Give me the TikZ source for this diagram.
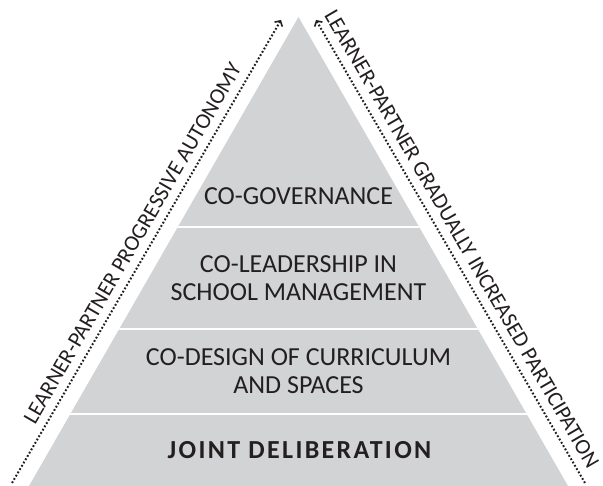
\documentclass[tikz,border=0pt]{standalone}
\usepackage{fontspec}
\setmainfont{Carlito}
\usepackage{tikz}
\usetikzlibrary{positioning,calc,arrows.meta}
\definecolor{pyrgray}{RGB}{209,211,212}
\definecolor{inkgray}{RGB}{35,31,32}
\tikzset{tier/.style={align=center, inner sep=0pt, text=inkgray, font=\fontsize{26}{28}\selectfont}}
\tikzset{tierb/.style={tier, font=\fontsize{26}{28}\selectfont\bfseries\addfontfeatures{LetterSpace=9}}}
\tikzset{sidelbl/.style={sloped, above, inner sep=8pt, text=inkgray, font=\fontsize{22}{24}\selectfont}}
\tikzset{dotarr/.style={draw=inkgray, line width=2pt, dash pattern=on 1.8pt off 2pt, -{Straight Barb[length=4pt,width=9pt,line width=1.6pt]}}}
\tikzset{sep/.style={draw=white, line width=2pt}}

\begin{document}
\begin{tikzpicture}[x=1pt, y=1pt]
	\useasboundingbox (0,0) rectangle (603,486);
	% pyramid
	\coordinate (top) at (298.5,469);
	\coordinate (bl) at (29,0);
	\coordinate (br) at (568,0);
	\fill[pyrgray] (bl) -- (top) -- (br) -- cycle;
	\begin{scope}
		\clip (bl) -- (top) -- (br) -- cycle;
		\foreach \y in {259,157,72}
			\draw[sep] (0,\y) -- (603,\y);
	\end{scope}
	% tiers
	\node[tier] (gov) at (298.5,289.5) {CO-GOVERNANCE};
	\node[tier] (lead) at (298.5,207.5) {CO-LEADERSHIP IN\\SCHOOL MANAGEMENT};
	\node[tier] (design) at (298.5,115) {CO-DESIGN OF CURRICULUM\\AND SPACES};
	\node[tierb] (delib) at (299.5,36) {JOINT DELIBERATION};
	% side arrows
	\coordinate (lb) at (12,3);
	\coordinate (lt) at (281,466);
	\coordinate (rb) at (585,3);
	\coordinate (rt) at (316,466);
	\draw[dotarr] (lb) --
		node[sidelbl]{LEARNER-PARTNER PROGRESSIVE AUTONOMY} (lt);
	\draw[dotarr] (rb) --
		% node[sidelbl]{...}
		node[sidelbl, pos=0.51]{LEARNER-PARTNER GRADUALLY INCREASED PARTICIPATION} (rt);
\end{tikzpicture}
\end{document}
